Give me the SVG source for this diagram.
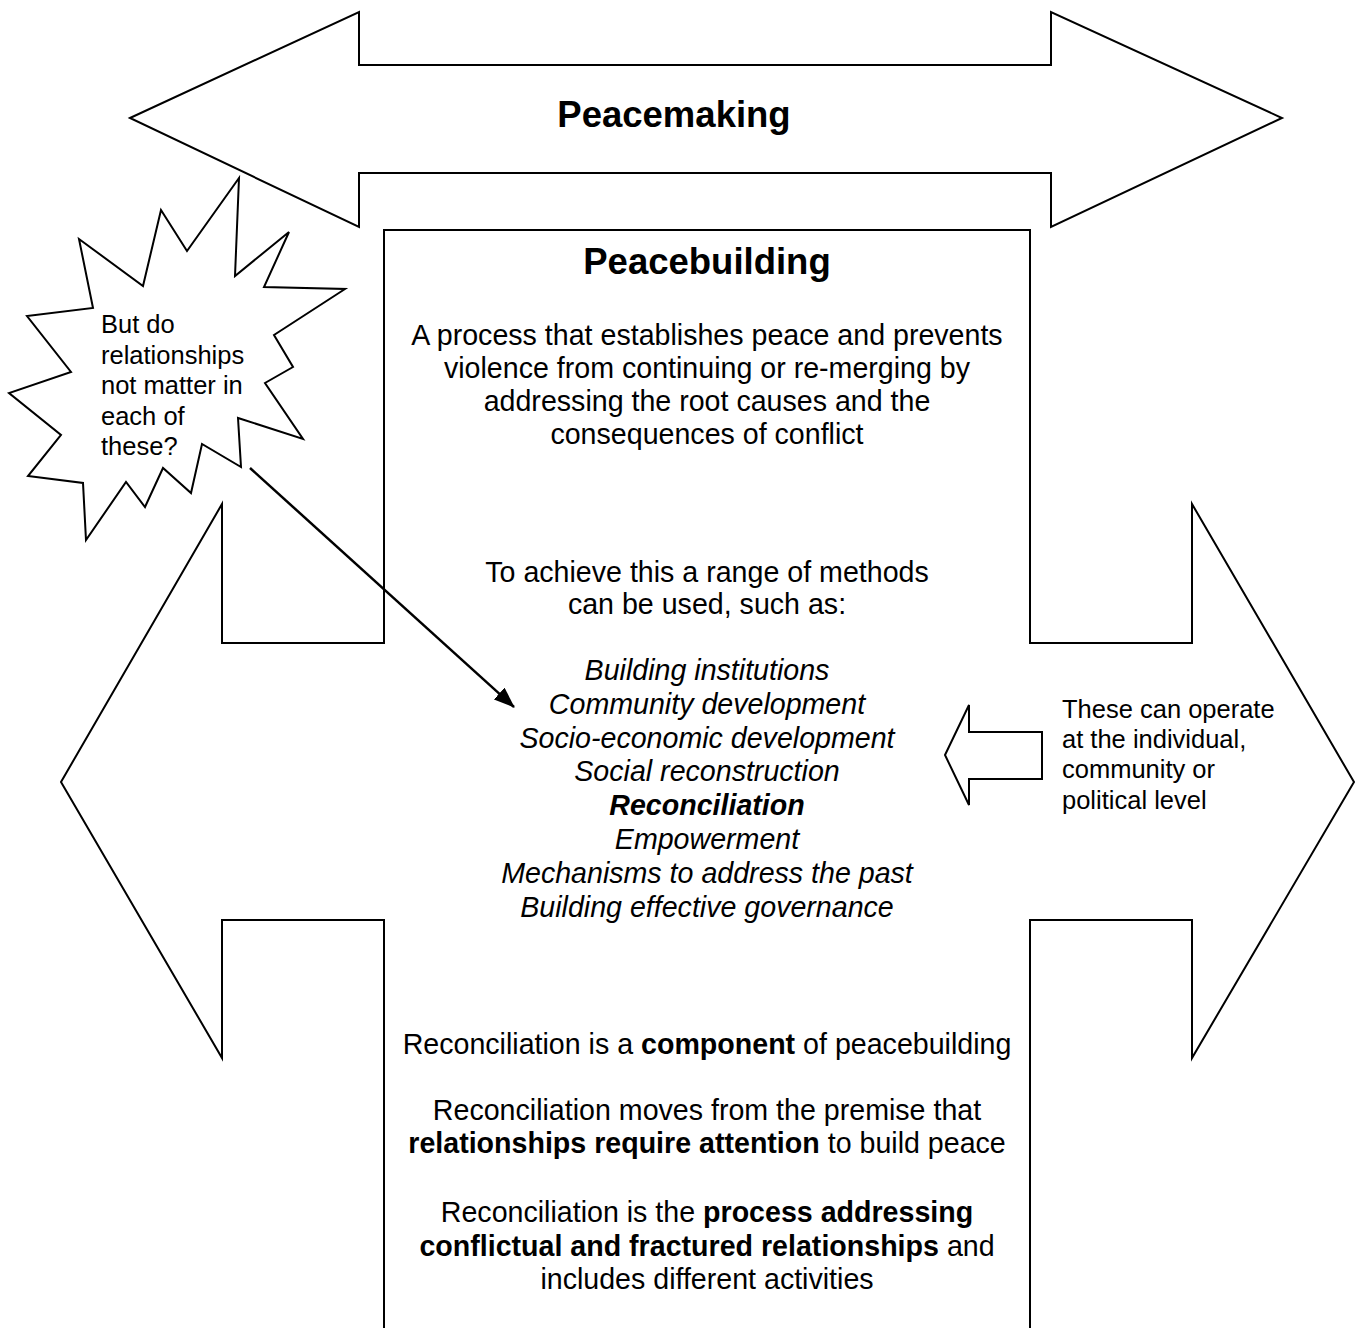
<svg xmlns="http://www.w3.org/2000/svg" width="1357" height="1328" viewBox="0 0 1357 1328">
<style>
.shape{fill:#fff;stroke:#000;stroke-width:2;stroke-linejoin:miter}
.t{font-family:"Liberation Sans",Arial,sans-serif;fill:#000}
.title{font-size:36.5px;font-weight:bold;text-anchor:middle}
.body{font-size:28.6px;text-anchor:middle}
.it{font-style:italic}
.small{font-size:25.5px}
.b{font-weight:bold}
.conn{stroke:#000;stroke-width:2.5;fill:none}
</style>
<defs>
<marker id="ah" markerWidth="22" markerHeight="16" refX="20" refY="8" orient="auto" markerUnits="userSpaceOnUse">
<path d="M0,0 L21,8 L0,16 Z" fill="#000"/>
</marker>
</defs>
<rect width="1357" height="1328" fill="#fff"/>

<g id="peacemaking">
<polygon class="shape" points="130,118 359,12 359,65 1051,65 1051,12 1282,118 1051,227 1051,173 359,173 359,227"/>
<text class="t title" x="674" y="127">Peacemaking</text>
</g>

<g id="peacebuilding">
<polygon class="shape" points="384,230 1030,230 1030,643 1192,643 1192,504 1354,782 1192,1058 1192,920 1030,920 1030,1340 384,1340 384,920 222,920 222,1058 61,782 222,504 222,643 384,643"/>
<text class="t title" x="707" y="274">Peacebuilding</text>
<text class="t body" x="707" y="345">A process that establishes peace and prevents</text>
<text class="t body" x="707" y="378">violence from continuing or re-merging by</text>
<text class="t body" x="707" y="411">addressing the root causes and the</text>
<text class="t body" x="707" y="444">consequences of conflict</text>
<text class="t body" x="707" y="582">To achieve this a range of methods</text>
<text class="t body" x="707" y="614">can be used, such as:</text>
<text class="t body it" x="707" y="680">Building institutions</text>
<text class="t body it" x="707" y="713.8">Community development</text>
<text class="t body it" x="707" y="747.6">Socio-economic development</text>
<text class="t body it" x="707" y="781.4">Social reconstruction</text>
<text class="t body it b" x="707" y="815.2">Reconciliation</text>
<text class="t body it" x="707" y="849">Empowerment</text>
<text class="t body it" x="707" y="882.8">Mechanisms to address the past</text>
<text class="t body it" x="707" y="916.6">Building effective governance</text>
<text class="t body" x="707" y="1054">Reconciliation is a <tspan class="b">component</tspan> of peacebuilding</text>
<text class="t body" x="707" y="1120">Reconciliation moves from the premise that</text>
<text class="t body" x="707" y="1153"><tspan class="b">relationships require attention</tspan> to build peace</text>
<text class="t body" x="707" y="1222">Reconciliation is the <tspan class="b">process addressing</tspan></text>
<text class="t body" x="707" y="1256"><tspan class="b">conflictual and fractured relationships</tspan> and</text>
<text class="t body" x="707" y="1289">includes different activities</text>
</g>

<g id="callout">
<polygon class="shape" points="239,178 235,276 289,232 264,287 345,289 274,335 293,367 265,383 303,439 238,418 241,467 202,444 191,493 163,468 145,507 126,482 86,540 83,483 28,476 61,435 9,393 71,372 27,316 93,308 79,239 143,286 161,210 187,251"/>
<text class="t small" x="101" y="333">But do</text>
<text class="t small" x="101" y="363.5">relationships</text>
<text class="t small" x="101" y="394">not matter in</text>
<text class="t small" x="101" y="424.5">each of</text>
<text class="t small" x="101" y="455">these?</text>
</g>

<g id="levels">
<polygon class="shape" points="945,755 969,705 969,732 1042,732 1042,779 969,779 969,805"/>
<text class="t small" x="1062" y="718">These can operate</text>
<text class="t small" x="1062" y="748">at the individual,</text>
<text class="t small" x="1062" y="778">community or</text>
<text class="t small" x="1062" y="809">political level</text>
</g>

<g id="connectors">
<line class="conn" x1="250" y1="468" x2="514" y2="707" marker-end="url(#ah)"/>
</g>
</svg>
